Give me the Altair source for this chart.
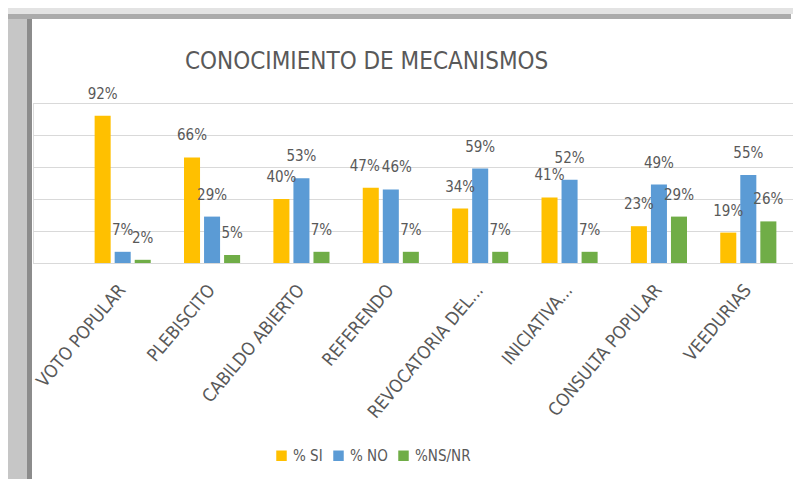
import altair as alt
import pandas as pd

categories = ["VOTO POPULAR", "PLEBISCITO", "CABILDO ABIERTO", "REFERENDO",
              "REVOCATORIA DEL...", "INICIATIVA...", "CONSULTA POPULAR", "VEEDURIAS"]
si_values = [92, 66, 40, 47, 34, 41, 23, 19]
no_values = [7, 29, 53, 46, 59, 52, 49, 55]
nsnr_values = [2, 5, 7, 7, 7, 7, 29, 26]
series_names = ["% SI", "% NO", "%NS/NR"]
series_colors = ["#FFC000", "#5B9BD5", "#70AD47"]
grid_ticks = [0, 20, 40, 60, 80, 100]
title_text = "CONOCIMIENTO DE MECANISMOS"

rows = []
all_vals = [si_values, no_values, nsnr_values]
for si_idx, (name, vals) in enumerate(zip(series_names, all_vals)):
    for ci, (c, v) in enumerate(zip(categories, vals)):
        # nudge labels apart (like Excel) when neighbouring labels sit at nearly the same height
        nudge = 0
        if si_idx < 2 and abs(si_values[ci] - no_values[ci]) < 5:
            nudge = -1 if si_idx == 0 else 1
        rows.append({"cat": c, "serie": name, "val": v, "label": f"{v}%", "nudge": nudge})
df = pd.DataFrame(rows)
grid_df = pd.DataFrame({"val": grid_ticks})

FONT = "'DejaVu Sans Condensed', sans-serif"
GRAY = "#595959"
W, H = 760, 160

y_scale = alt.Scale(domain=[0, 100], nice=False)

x_enc = alt.X("cat:N", sort=categories,
              scale=alt.Scale(range=[45, 760], paddingInner=0, paddingOuter=0),
              axis=alt.Axis(title=None, ticks=False, domain=False,
                            labelAngle=-50, labelAlign="right", labelBaseline="middle",
                            labelPadding=24, labelFontSize=18, labelColor=GRAY,
                            labelFont=FONT, labelLimit=300, grid=False))
xo_enc = alt.XOffset("serie:N", sort=series_names,
                     scale=alt.Scale(paddingInner=0.2, paddingOuter=0.83))
y_enc = alt.Y("val:Q", scale=y_scale, axis=None)

one = alt.Data(values=[{"k": 0}])
frame_left_light = alt.Chart(one).mark_rect(color="#c6c6c6").encode(
    x=alt.value(-25), x2=alt.value(-6), y=alt.value(-84), y2=alt.value(384))
frame_left_dark = alt.Chart(one).mark_rect(color="#8c8c8c").encode(
    x=alt.value(-6), x2=alt.value(-1), y=alt.value(-84), y2=alt.value(384))
frame_top_light = alt.Chart(one).mark_rect(color="#e3e3e3").encode(
    x=alt.value(-25), x2=alt.value(770), y=alt.value(-95), y2=alt.value(-89))
frame_top_dark = alt.Chart(one).mark_rect(color="#ababab").encode(
    x=alt.value(-25), x2=alt.value(758), y=alt.value(-89), y2=alt.value(-84))

gridlines = alt.Chart(grid_df).mark_rule(color="#d9d9d9", strokeWidth=1).encode(
    y=alt.Y("val:Q", scale=y_scale, axis=None),
    yOffset=alt.value(0.5),
    x=alt.value(0), x2=alt.value(W))

bars = alt.Chart(df).mark_bar().encode(
    x=x_enc, xOffset=xo_enc, y=y_enc,
    color=alt.Color("serie:N", sort=series_names,
                    scale=alt.Scale(domain=series_names, range=series_colors),
                    legend=alt.Legend(title=None, orient="none", legendX=241, legendY=345,
                                      direction="horizontal", symbolType="square",
                                      symbolSize=110, symbolStrokeWidth=0,
                                      labelFontSize=15, labelColor=GRAY, labelFont=FONT,
                                      columnPadding=8, labelOffset=4)),
)


def label_layer(nudge, dx):
    return alt.Chart(df).transform_filter(alt.datum.nudge == nudge).mark_text(
        dy=-17, dx=dx, baseline="alphabetic", fontSize=15, font=FONT, color=GRAY
    ).encode(
        x=alt.X("cat:N", sort=categories),
        xOffset=alt.XOffset("serie:N", sort=series_names),
        y="val:Q", text="label:N")


labels = [label_layer(0, 0), label_layer(-1, -6), label_layer(1, 6)]

chart = alt.layer(frame_left_light, frame_left_dark, frame_top_light, frame_top_dark,
                  gridlines, bars, *labels).properties(
    width=W, height=H,
    title=alt.TitleParams(title_text, anchor="start", dx=177, fontSize=24, font=FONT,
                          color=GRAY, fontWeight="normal", offset=-66),
    autosize=alt.AutoSizeParams(type="none"),
    padding={"left": 25, "top": 95, "right": 0, "bottom": 216},
).configure_view(stroke=None).configure(background="white")

chart.save("out.html", embed_options={"renderer": "svg", "actions": False})
